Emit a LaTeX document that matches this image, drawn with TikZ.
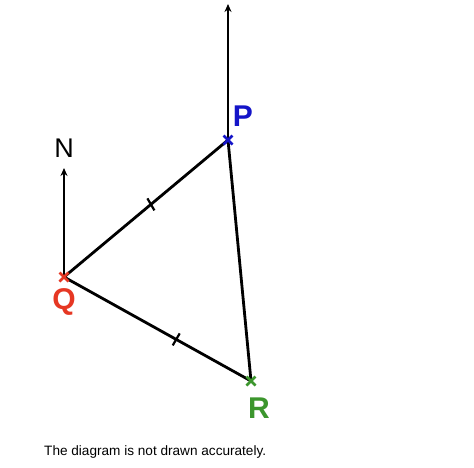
\documentclass[tikz,border=0pt]{standalone}
\usepackage{fontspec}
\setmainfont{Liberation Sans}
\usetikzlibrary{arrows.meta,calc}
\definecolor{pblue}{RGB}{20,20,200}
\definecolor{qred}{RGB}{230,55,35}
\definecolor{rgreen}{RGB}{60,150,45}
\begin{document}
\begin{tikzpicture}[x=1pt,y=-1pt,
  seg/.style={line width=2.8pt,black},
  arr/.style={seg,-{Stealth[length=8pt,width=7pt]}},
  crossmark/.style={line width=2.8pt},
  tick/.style={line width=2.2pt},
  lbl/.style={font=\fontsize{30}{30}\selectfont\bfseries,inner sep=0pt}]
\useasboundingbox (0,0) rectangle (474,467);
\fill[white] (0,0) rectangle (474,467);
\coordinate (P) at (228,140);
\coordinate (Q) at (64,277);
\coordinate (R) at (251,381);
\coordinate (Ptop) at (228,4);
\coordinate (Ntop) at (64,168);
\draw[arr] (P) -- (Ptop);
\draw[arr] (Q) -- (Ntop);
\draw[seg,line join=round] (P) -- (Q) -- (R) -- cycle;
% ticks
\draw[tick] ($(P)!0.47!(Q)$) ++(-3.5,-6) -- ++(7,12);
\draw[tick] ($(Q)!0.6!(R)$) ++(-3.5,6) -- ++(7,-12);
% crosses
\draw[crossmark,pblue] (P) ++(-4.5,-4.5) -- ++(9,9) (P) ++(-4.5,4.5) -- ++(9,-9);
\draw[crossmark,qred] (Q) ++(-4.5,-4.5) -- ++(9,9) (Q) ++(-4.5,4.5) -- ++(9,-9);
\draw[crossmark,rgreen] (R) ++(-4.5,-4.5) -- ++(9,9) (R) ++(-4.5,4.5) -- ++(9,-9);
\node[lbl,pblue] (Plbl) at (243,116) {P};
\node[lbl,qred] (Qlbl) at (64,302) {Q};
\node[lbl,rgreen] (Rlbl) at (259,408) {R};
\node[font=\fontsize{27}{27}\selectfont,inner sep=0pt] (N) at (64,148) {N};
\node[font=\fontsize{13.6}{13.6}\selectfont,inner sep=0pt,anchor=west] (cap) at (44,452) {The diagram is not drawn accurately.};
\end{tikzpicture}
\end{document}
